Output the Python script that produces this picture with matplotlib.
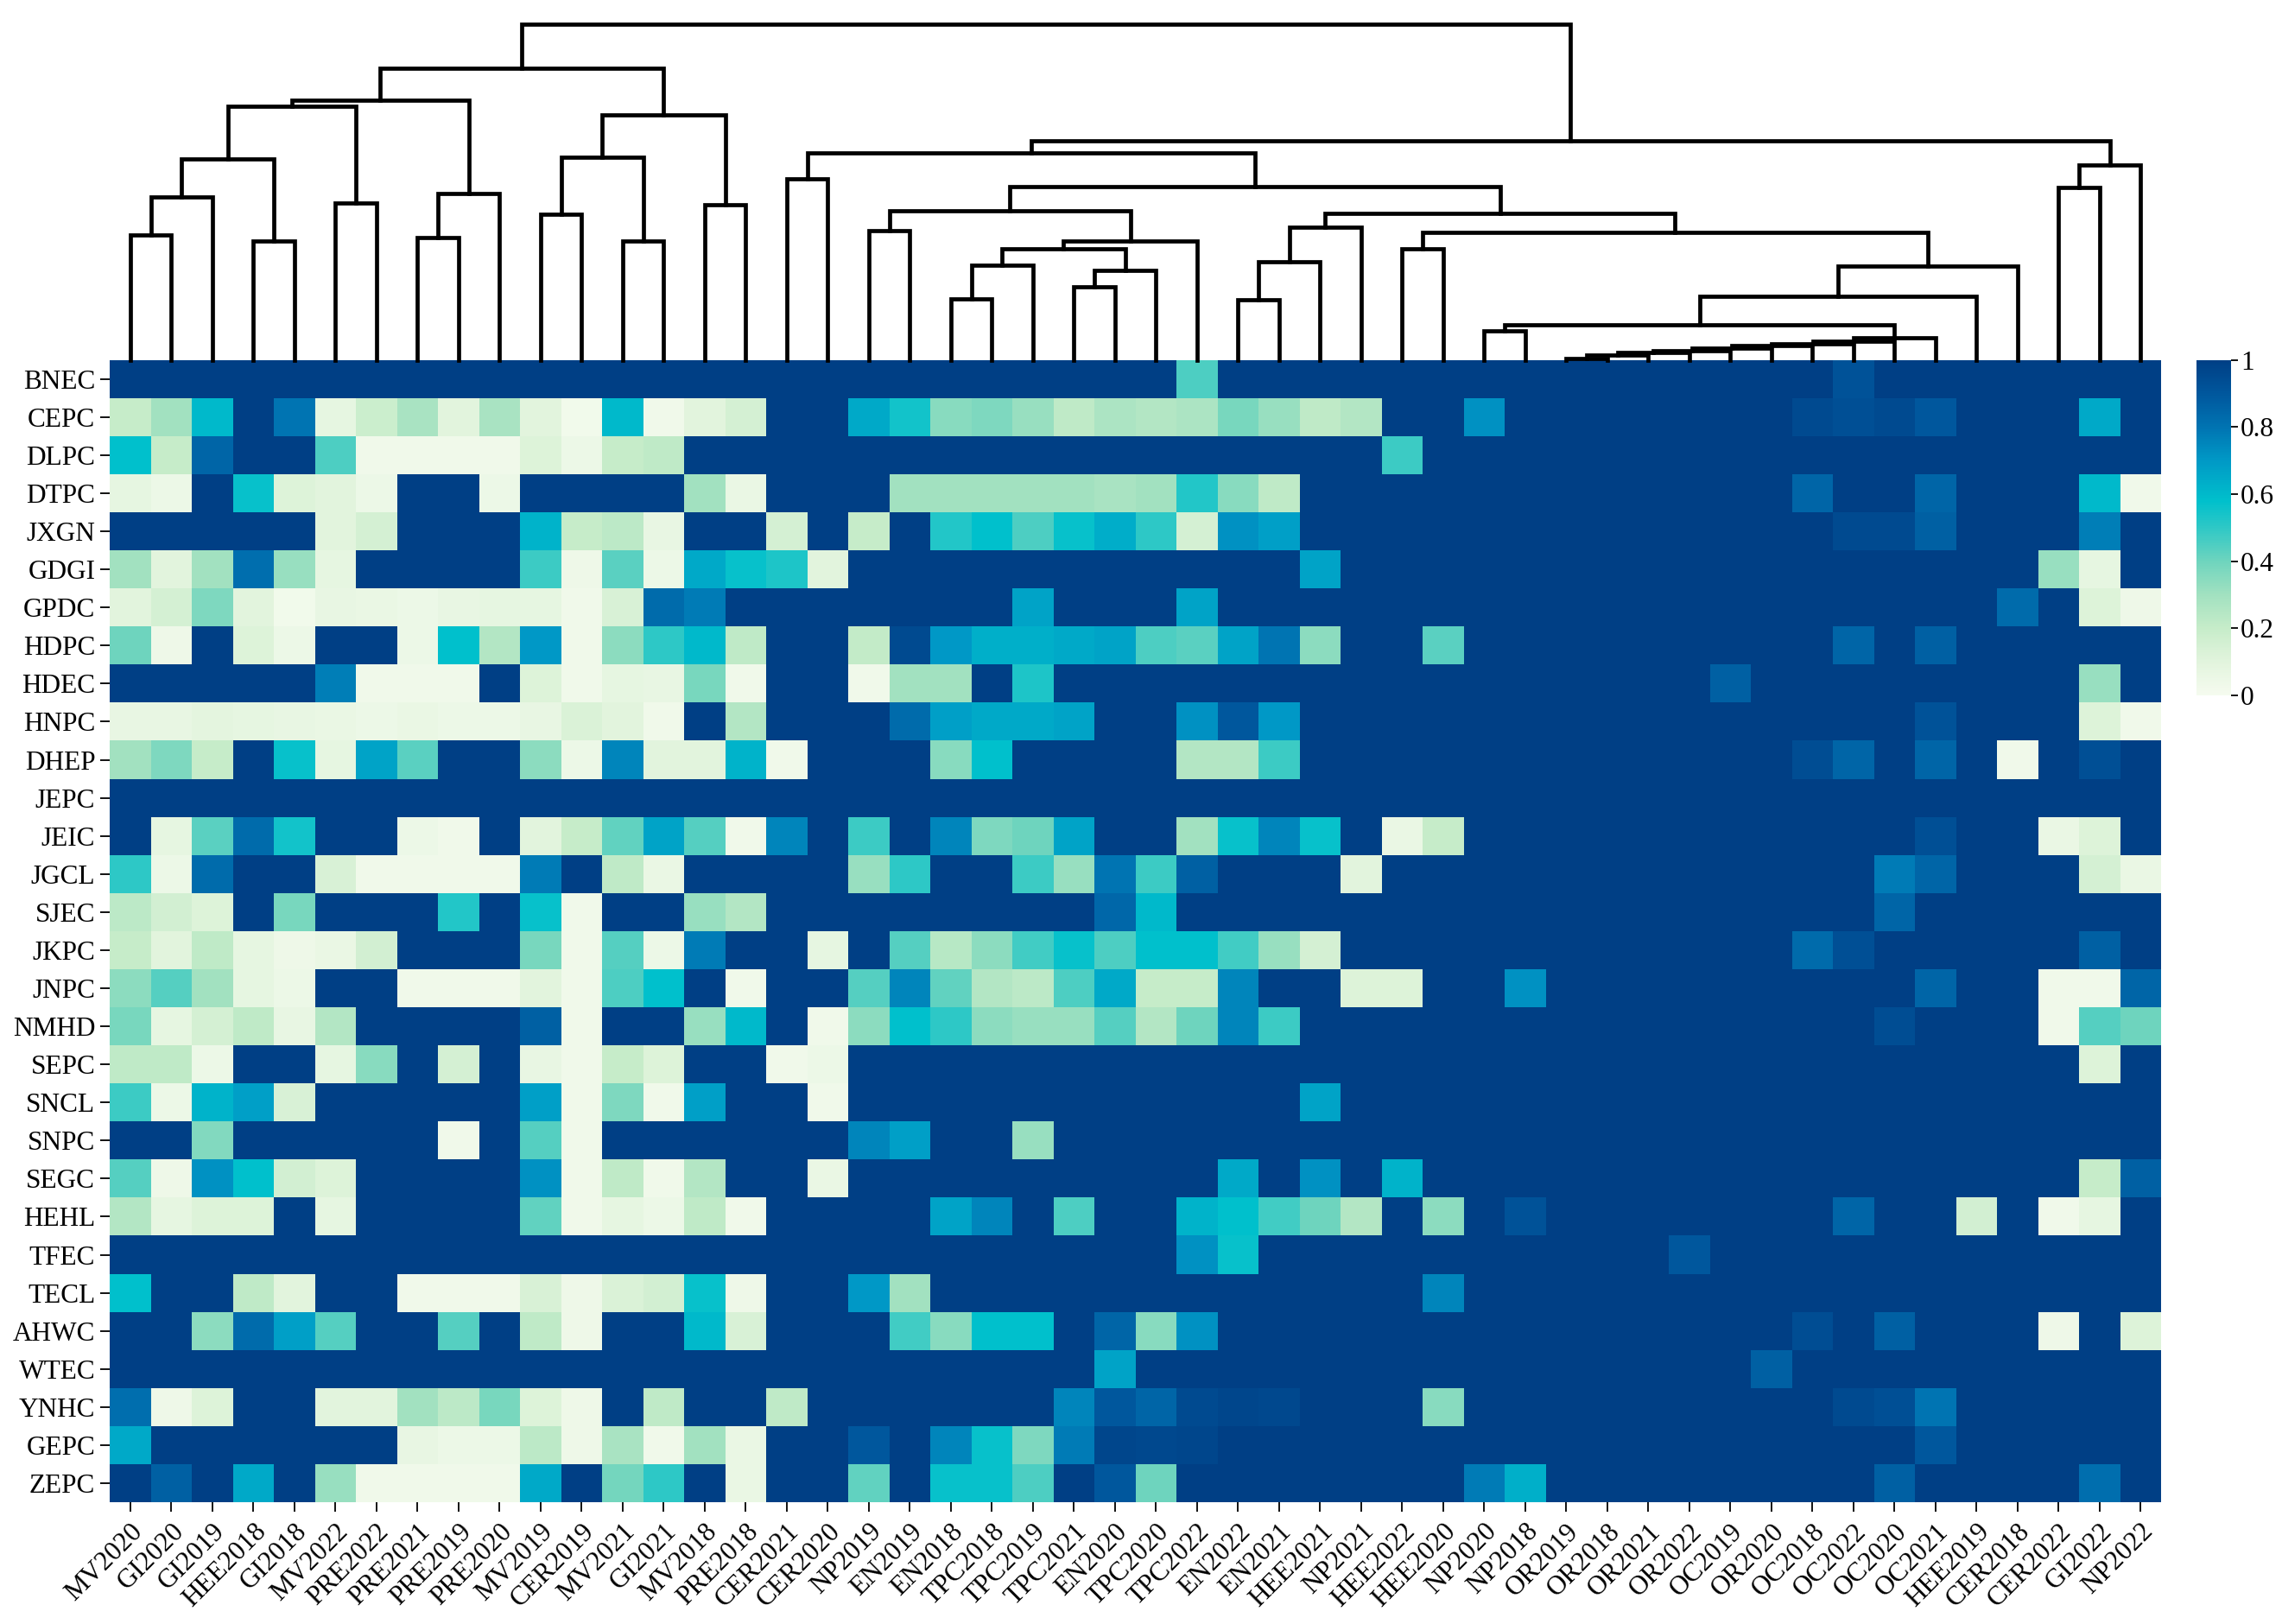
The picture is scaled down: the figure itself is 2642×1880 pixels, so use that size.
import numpy as np
import matplotlib
matplotlib.use('Agg')
import matplotlib.pyplot as plt
from matplotlib.colors import LinearSegmentedColormap

plt.rcParams['font.family'] = ['Liberation Serif', 'DejaVu Serif']

col_labels = ['MV2020', 'GI2020', 'GI2019', 'HEE2018', 'GI2018', 'MV2022', 'PRE2022', 'PRE2021',
              'PRE2019', 'PRE2020', 'MV2019', 'CER2019', 'MV2021', 'GI2021', 'MV2018', 'PRE2018',
              'CER2021', 'CER2020', 'NP2019', 'EN2019', 'EN2018', 'TPC2018', 'TPC2019', 'TPC2021',
              'EN2020', 'TPC2020', 'TPC2022', 'EN2022', 'EN2021', 'HEE2021', 'NP2021', 'HEE2022',
              'HEE2020', 'NP2020', 'NP2018', 'OR2019', 'OR2018', 'OR2021', 'OR2022', 'OC2019',
              'OR2020', 'OC2018', 'OC2022', 'OC2020', 'OC2021', 'HEE2019', 'CER2018', 'CER2022',
              'GI2022', 'NP2022']

row_labels = ['BNEC', 'CEPC', 'DLPC', 'DTPC', 'JXGN', 'GDGI', 'GPDC', 'HDPC', 'HDEC', 'HNPC',
              'DHEP', 'JEPC', 'JEIC', 'JGCL', 'SJEC', 'JKPC', 'JNPC', 'NMHD', 'SEPC', 'SNCL',
              'SNPC', 'SEGC', 'HEHL', 'TFEC', 'TECL', 'AHWC', 'WTEC', 'YNHC', 'GEPC', 'ZEPC']

BNEC = [1, 1, 1, 1, 1, 1, 1, 1, 1, 1,  1, 1, 1, 1, 1, 1, 1, 1, 1, 1,
        1, 1, 1, 1, 1, 1, 0.45, 1, 1, 1,  1, 1, 1, 1, 1, 1, 1, 1, 1, 1,
        1, 1, 0.92, 1, 1, 1, 1, 1, 1, 1]
CEPC = [0.2, 0.3, 0.6, 1, 0.8, 0.08, 0.18, 0.28, 0.1, 0.28,  0.1, 0.02, 0.6, 0.03, 0.1, 0.15, 1, 1, 0.65, 0.55,
        0.35, 0.37, 0.32, 0.22, 0.27, 0.25, 0.27, 0.38, 0.32, 0.22,  0.25, 1, 1, 0.72, 1, 1, 1, 1, 1, 1,
        1, 0.95, 0.93, 0.95, 0.9, 1, 1, 1, 0.65, 1]
DLPC = [0.58, 0.2, 0.85, 1, 1, 0.45, 0.03, 0.03, 0.03, 0.03,  0.12, 0.05, 0.2, 0.22, 1, 1, 1, 1, 1, 1,
        1, 1, 1, 1, 1, 1, 1, 1, 1, 1,  1, 0.48, 1, 1, 1, 1, 1, 1, 1, 1,
        1, 1, 1, 1, 1, 1, 1, 1, 1, 1]
DTPC = [0.08, 0.05, 1, 0.57, 0.12, 0.1, 0.05, 1, 1, 0.05,  1, 1, 1, 1, 0.3, 0.06, 1, 1, 1, 0.3,
        0.3, 0.3, 0.3, 0.3, 0.28, 0.3, 0.52, 0.35, 0.22, 1,  1, 1, 1, 1, 1, 1, 1, 1, 1, 1,
        1, 0.85, 1, 1, 0.85, 1, 1, 1, 0.6, 0.03]
JXGN = [1, 1, 1, 1, 1, 0.1, 0.15, 1, 1, 1,  0.62, 0.2, 0.23, 0.07, 1, 1, 0.15, 1, 0.2, 1,
        0.52, 0.58, 0.45, 0.57, 0.64, 0.5, 0.15, 0.72, 0.68, 1,  1, 1, 1, 1, 1, 1, 1, 1, 1, 1,
        1, 1, 0.95, 0.95, 0.87, 1, 1, 1, 0.77, 1]
GDGI = [0.3, 0.1, 0.3, 0.82, 0.32, 0.08, 1, 1, 1, 1,  0.48, 0.04, 0.43, 0.05, 0.65, 0.57, 0.53, 0.1, 1, 1,
        1, 1, 1, 1, 1, 1, 1, 1, 1, 0.67,  1, 1, 1, 1, 1, 1, 1, 1, 1, 1,
        1, 1, 1, 1, 1, 1, 1, 0.32, 0.08, 1]
GPDC = [0.1, 0.15, 0.37, 0.1, 0.02, 0.07, 0.06, 0.05, 0.07, 0.08,  0.08, 0.03, 0.14, 0.83, 0.78, 1, 1, 1, 1, 1,
        1, 1, 0.67, 1, 1, 1, 0.67, 1, 1, 1,  1, 1, 1, 1, 1, 1, 1, 1, 1, 1,
        1, 1, 1, 1, 1, 1, 0.83, 1, 0.12, 0.04]
HDPC = [0.4, 0.04, 1, 0.12, 0.05, 1, 1, 0.05, 0.58, 0.25,  0.7, 0.03, 0.34, 0.5, 0.6, 0.22, 1, 1, 0.21, 0.95,
        0.7, 0.63, 0.63, 0.65, 0.67, 0.45, 0.43, 0.67, 0.8, 0.34,  1, 1, 0.43, 1, 1, 1, 1, 1, 1, 1,
        1, 1, 0.85, 1, 0.87, 1, 1, 1, 1, 1]
HDEC = [1, 1, 1, 1, 1, 0.77, 0.03, 0.03, 0.03, 1,  0.12, 0.03, 0.08, 0.07, 0.38, 0.03, 1, 1, 0.03, 0.3,
        0.3, 1, 0.53, 1, 1, 1, 1, 1, 1, 1,  1, 1, 1, 1, 1, 1, 1, 1, 1, 0.87,
        1, 1, 1, 1, 1, 1, 1, 1, 0.32, 1]
HNPC = [0.07, 0.07, 0.09, 0.08, 0.07, 0.06, 0.05, 0.06, 0.05, 0.05,  0.07, 0.13, 0.1, 0.03, 1, 0.25, 1, 1, 1, 0.83,
        0.68, 0.65, 0.65, 0.67, 1, 1, 0.72, 0.9, 0.7, 1,  1, 1, 1, 1, 1, 1, 1, 1, 1, 1,
        1, 1, 1, 1, 0.92, 1, 1, 1, 0.12, 0.03]
DHEP = [0.3, 0.37, 0.2, 1, 0.57, 0.08, 0.67, 0.43, 1, 1,  0.34, 0.05, 0.75, 0.1, 0.1, 0.62, 0.03, 1, 1, 1,
        0.35, 0.58, 1, 1, 1, 1, 0.25, 0.25, 0.48, 1,  1, 1, 1, 1, 1, 1, 1, 1, 1, 1,
        1, 0.94, 0.85, 1, 0.85, 1, 0.03, 1, 0.93, 1]
JEPC = [1, 1, 1, 1, 1, 1, 1, 1, 1, 1,  1, 1, 1, 1, 1, 1, 1, 1, 1, 1,
        1, 1, 1, 1, 1, 1, 1, 1, 1, 1,  1, 1, 1, 1, 1, 1, 1, 1, 1, 1,
        1, 1, 1, 1, 1, 1, 1, 1, 1, 1]
JEIC = [1, 0.08, 0.43, 0.83, 0.55, 1, 1, 0.05, 0.03, 1,  0.1, 0.2, 0.42, 0.67, 0.44, 0.03, 0.75, 1, 0.48, 1,
        0.75, 0.37, 0.4, 0.67, 1, 1, 0.3, 0.57, 0.75, 0.57,  1, 0.06, 0.2, 1, 1, 1, 1, 1, 1, 1,
        1, 1, 1, 1, 0.93, 1, 1, 0.06, 0.12, 1]
JGCL = [0.5, 0.05, 0.83, 1, 1, 0.14, 0.03, 0.03, 0.03, 0.03,  0.78, 1, 0.22, 0.06, 1, 1, 1, 1, 0.32, 0.5,
        1, 1, 0.48, 0.32, 0.8, 0.48, 0.87, 1, 1, 1,  0.1, 1, 1, 1, 1, 1, 1, 1, 1, 1,
        1, 1, 1, 0.78, 0.85, 1, 1, 1, 0.15, 0.06]
SJEC = [0.23, 0.16, 0.12, 1, 0.38, 1, 1, 1, 0.52, 1,  0.57, 0.03, 1, 1, 0.32, 0.25, 1, 1, 1, 1,
        1, 1, 1, 1, 0.84, 0.6, 1, 1, 1, 1,  1, 1, 1, 1, 1, 1, 1, 1, 1, 1,
        1, 1, 1, 0.85, 1, 1, 1, 1, 1, 1]
JKPC = [0.2, 0.1, 0.22, 0.08, 0.04, 0.06, 0.16, 1, 1, 1,  0.38, 0.03, 0.44, 0.05, 0.78, 1, 1, 0.08, 1, 0.44,
        0.24, 0.34, 0.47, 0.57, 0.45, 0.58, 0.58, 0.47, 0.32, 0.15,  1, 1, 1, 1, 1, 1, 1, 1, 1, 1,
        1, 0.83, 0.93, 1, 1, 1, 1, 1, 0.87, 1]
JNPC = [0.34, 0.44, 0.3, 0.08, 0.05, 1, 1, 0.03, 0.03, 0.03,  0.1, 0.03, 0.45, 0.58, 1, 0.03, 1, 1, 0.44, 0.75,
        0.42, 0.25, 0.23, 0.45, 0.65, 0.2, 0.2, 0.75, 1, 1,  0.12, 0.12, 1, 1, 0.72, 1, 1, 1, 1, 1,
        1, 1, 1, 1, 0.85, 1, 1, 0.03, 0.03, 0.85]
NMHD = [0.38, 0.08, 0.15, 0.22, 0.07, 0.25, 1, 1, 1, 1,  0.87, 0.03, 1, 1, 0.32, 0.6, 1, 0.03, 0.34, 0.58,
        0.5, 0.34, 0.32, 0.32, 0.44, 0.25, 0.4, 0.75, 0.48, 1,  1, 1, 1, 1, 1, 1, 1, 1, 1, 1,
        1, 1, 1, 0.94, 1, 1, 1, 0.03, 0.44, 0.4]
SEPC = [0.22, 0.22, 0.05, 1, 1, 0.08, 0.35, 1, 0.15, 1,  0.07, 0.03, 0.2, 0.12, 1, 1, 0.03, 0.05, 1, 1,
        1, 1, 1, 1, 1, 1, 1, 1, 1, 1,  1, 1, 1, 1, 1, 1, 1, 1, 1, 1,
        1, 1, 1, 1, 1, 1, 1, 1, 0.12, 1]
SNCL = [0.48, 0.05, 0.62, 0.68, 0.14, 1, 1, 1, 1, 1,  0.68, 0.03, 0.37, 0.03, 0.68, 1, 1, 0.03, 1, 1,
        1, 1, 1, 1, 1, 1, 1, 1, 1, 0.67,  1, 1, 1, 1, 1, 1, 1, 1, 1, 1,
        1, 1, 1, 1, 1, 1, 1, 1, 1, 1]
SNPC = [1, 1, 0.36, 1, 1, 1, 1, 1, 0.03, 1,  0.44, 0.03, 1, 1, 1, 1, 1, 1, 0.75, 0.68,
        1, 1, 0.32, 1, 1, 1, 1, 1, 1, 1,  1, 1, 1, 1, 1, 1, 1, 1, 1, 1,
        1, 1, 1, 1, 1, 1, 1, 1, 1, 1]
SEGC = [0.44, 0.04, 0.72, 0.58, 0.16, 0.12, 1, 1, 1, 1,  0.72, 0.03, 0.22, 0.03, 0.25, 1, 1, 0.06, 1, 1,
        1, 1, 1, 1, 1, 1, 1, 0.65, 1, 0.72,  1, 0.62, 1, 1, 1, 1, 1, 1, 1, 1,
        1, 1, 1, 1, 1, 1, 1, 1, 0.2, 0.87]
HEHL = [0.25, 0.08, 0.12, 0.12, 1, 0.08, 1, 1, 1, 1,  0.42, 0.03, 0.08, 0.05, 0.22, 0.03, 1, 1, 1, 1,
        0.67, 0.75, 1, 0.45, 1, 1, 0.62, 0.58, 0.47, 0.4,  0.25, 1, 0.34, 1, 0.92, 1, 1, 1, 1, 1,
        1, 1, 0.85, 1, 1, 0.16, 1, 0.03, 0.08, 1]
TFEC = [1, 1, 1, 1, 1, 1, 1, 1, 1, 1,  1, 1, 1, 1, 1, 1, 1, 1, 1, 1,
        1, 1, 1, 1, 1, 1, 0.72, 0.57, 1, 1,  1, 1, 1, 1, 1, 1, 1, 1, 0.9, 1,
        1, 1, 1, 1, 1, 1, 1, 1, 1, 1]
TECL = [0.58, 1, 1, 0.22, 0.1, 1, 1, 0.03, 0.03, 0.03,  0.14, 0.04, 0.13, 0.16, 0.57, 0.04, 1, 1, 0.7, 0.3,
        1, 1, 1, 1, 1, 1, 1, 1, 1, 1,  1, 1, 0.75, 1, 1, 1, 1, 1, 1, 1,
        1, 1, 1, 1, 1, 1, 1, 1, 1, 1]
AHWC = [1, 1, 0.34, 0.83, 0.68, 0.44, 1, 1, 0.44, 1,  0.22, 0.04, 1, 1, 0.6, 0.14, 1, 1, 1, 0.47,
        0.35, 0.58, 0.58, 1, 0.85, 0.35, 0.72, 1, 1, 1,  1, 1, 1, 1, 1, 1, 1, 1, 1, 1,
        1, 0.94, 1, 0.87, 1, 1, 1, 0.04, 1, 0.12]
WTEC = [1, 1, 1, 1, 1, 1, 1, 1, 1, 1,  1, 1, 1, 1, 1, 1, 1, 1, 1, 1,
        1, 1, 1, 1, 0.67, 1, 1, 1, 1, 1,  1, 1, 1, 1, 1, 1, 1, 1, 1, 1,
        0.87, 1, 1, 1, 1, 1, 1, 1, 1, 1]
YNHC = [0.82, 0.04, 0.12, 1, 1, 0.1, 0.1, 0.3, 0.23, 0.38,  0.12, 0.04, 1, 0.22, 1, 1, 0.22, 1, 1, 1,
        1, 1, 1, 0.75, 0.9, 0.85, 0.95, 0.97, 0.96, 1,  1, 1, 0.35, 1, 1, 1, 1, 1, 1, 1,
        1, 1, 0.95, 0.93, 0.8, 1, 1, 1, 1, 1]
GEPC = [0.65, 1, 1, 1, 1, 1, 1, 0.07, 0.05, 0.05,  0.23, 0.04, 0.28, 0.03, 0.3, 0.06, 1, 1, 0.9, 1,
        0.75, 0.57, 0.37, 0.78, 0.97, 0.96, 0.97, 1, 1, 1,  1, 1, 1, 1, 1, 1, 1, 1, 1, 1,
        1, 1, 1, 1, 0.9, 1, 1, 1, 1, 1]
ZEPC = [1, 0.87, 1, 0.65, 1, 0.32, 0.03, 0.03, 0.03, 0.03,  0.65, 1, 0.39, 0.5, 1, 0.06, 1, 1, 0.42, 1,
        0.57, 0.57, 0.45, 1, 0.9, 0.4, 1, 1, 1, 1,  1, 1, 1, 0.78, 0.63, 1, 1, 1, 1, 1,
        1, 1, 1, 0.87, 1, 1, 1, 1, 0.82, 1]

# column dendrogram: merge i creates cluster id 50+i (leaves are 0..49 in display order)
link_left = [0, 50, 3, 51, 5, 53, 7, 56, 55, 10, 12, 59, 14, 61, 58,
             16, 18, 20, 67, 23, 69, 68, 71, 66, 27, 74, 75, 31, 33,
             35, 79, 80, 81, 82, 83, 84, 85, 86, 78, 88, 89, 77, 76, 73, 65,
             47, 95, 94, 64]
link_right = [1, 2, 4, 52, 6, 54, 8, 9, 57, 11, 13, 60, 15, 62, 63,
              17, 19, 21, 22, 24, 25, 70, 26, 72, 28, 29, 30, 32, 34,
              36, 37, 38, 39, 40, 41, 42, 43, 44, 87, 45, 46, 90, 91, 92, 93,
              48, 49, 96, 97]
link_height = [1.45, 1.89, 1.374, 2.324, 1.817, 2.934, 1.417, 1.924, 3.01, 1.69, 1.374, 2.35, 1.80, 2.84, 3.377,
               2.10, 1.50, 0.707, 1.10, 0.85, 1.04, 1.284, 1.374, 1.724, 0.70, 1.134, 1.534, 1.284, 0.34,
               0.017, 0.057, 0.083, 0.107, 0.133, 0.167, 0.19, 0.217, 0.26, 0.407, 0.734, 1.084, 1.474, 1.70, 2.007, 2.40,
               2.00, 2.257, 2.534, 3.884]

values = np.array([BNEC, CEPC, DLPC, DTPC, JXGN, GDGI, GPDC, HDPC, HDEC, HNPC,
                   DHEP, JEPC, JEIC, JGCL, SJEC, JKPC, JNPC, NMHD, SEPC, SNCL,
                   SNPC, SEGC, HEHL, TFEC, TECL, AHWC, WTEC, YNHC, GEPC, ZEPC], dtype=float)
nrow, ncol = values.shape

cmap = LinearSegmentedColormap.from_list('custom_gnbu', [
    (0.0, '#f5fbef'), (0.1, '#e2f4dd'), (0.2, '#c6ecc9'), (0.3, '#a1e1c0'),
    (0.4, '#6ed4be'), (0.5, '#2ec8c6'), (0.58, '#00c0cc'), (0.7, '#0099c6'),
    (0.8, '#0074b2'), (0.9, '#00579d'), (1.0, '#003f85')])

W, H = 2642, 1880
def frame(x0, y0, x1, y1):
    return [x0 / W, 1 - y1 / H, (x1 - x0) / W, (y1 - y0) / H]

fig = plt.figure(figsize=(W / 100, H / 100), dpi=100)
ax = fig.add_axes(frame(127, 416.7, 2502, 1739))
dax = fig.add_axes(frame(127, 28.3, 2502, 416.7))
cax = fig.add_axes(frame(2543, 416.7, 2583, 805))

mesh = ax.pcolormesh(np.arange(ncol + 1), np.arange(nrow + 1), values, cmap=cmap,
                     vmin=0, vmax=1, edgecolors='face', linewidth=0)
ax.set_xlim(0, ncol)
ax.set_ylim(nrow, 0)
ax.set_xticks(np.arange(ncol) + 0.5)
ax.set_xticklabels(col_labels, rotation=45, ha='right', va='top', rotation_mode='anchor')
ax.set_yticks(np.arange(nrow) + 0.5)
ax.set_yticklabels(row_labels)
for s in ax.spines.values():
    s.set_visible(False)
ax.tick_params(axis='both', length=8, width=1.4, labelsize=22.5, pad=4, color='#111111')
ax.tick_params(axis='x', pad=6)

# dendrogram
pos = {i: i + 0.5 for i in range(ncol)}
hgt = {i: 0.0 for i in range(ncol)}
for k, (a, b, h) in enumerate(zip(link_left, link_right, link_height)):
    xa, xb = pos[a], pos[b]
    dax.plot([xa, xa, xb, xb], [hgt[a], h, h, hgt[b]], color='black', lw=3.4,
             solid_joinstyle='miter', clip_on=False)
    pos[ncol + k] = (xa + xb) / 2
    hgt[ncol + k] = h
dax.set_xlim(0, ncol)
dax.set_ylim(0, max(link_height))
dax.axis('off')

cb = fig.colorbar(mesh, cax=cax, ticks=[0, 0.2, 0.4, 0.6, 0.8, 1])
cb.ax.set_yticklabels(['0', '0.2', '0.4', '0.6', '0.8', '1'])
cb.outline.set_visible(False)
cb.ax.tick_params(labelsize=22.5, length=6, width=1.4, pad=2, color='#111111')

fig.savefig('out.png', dpi=100, facecolor='white')
